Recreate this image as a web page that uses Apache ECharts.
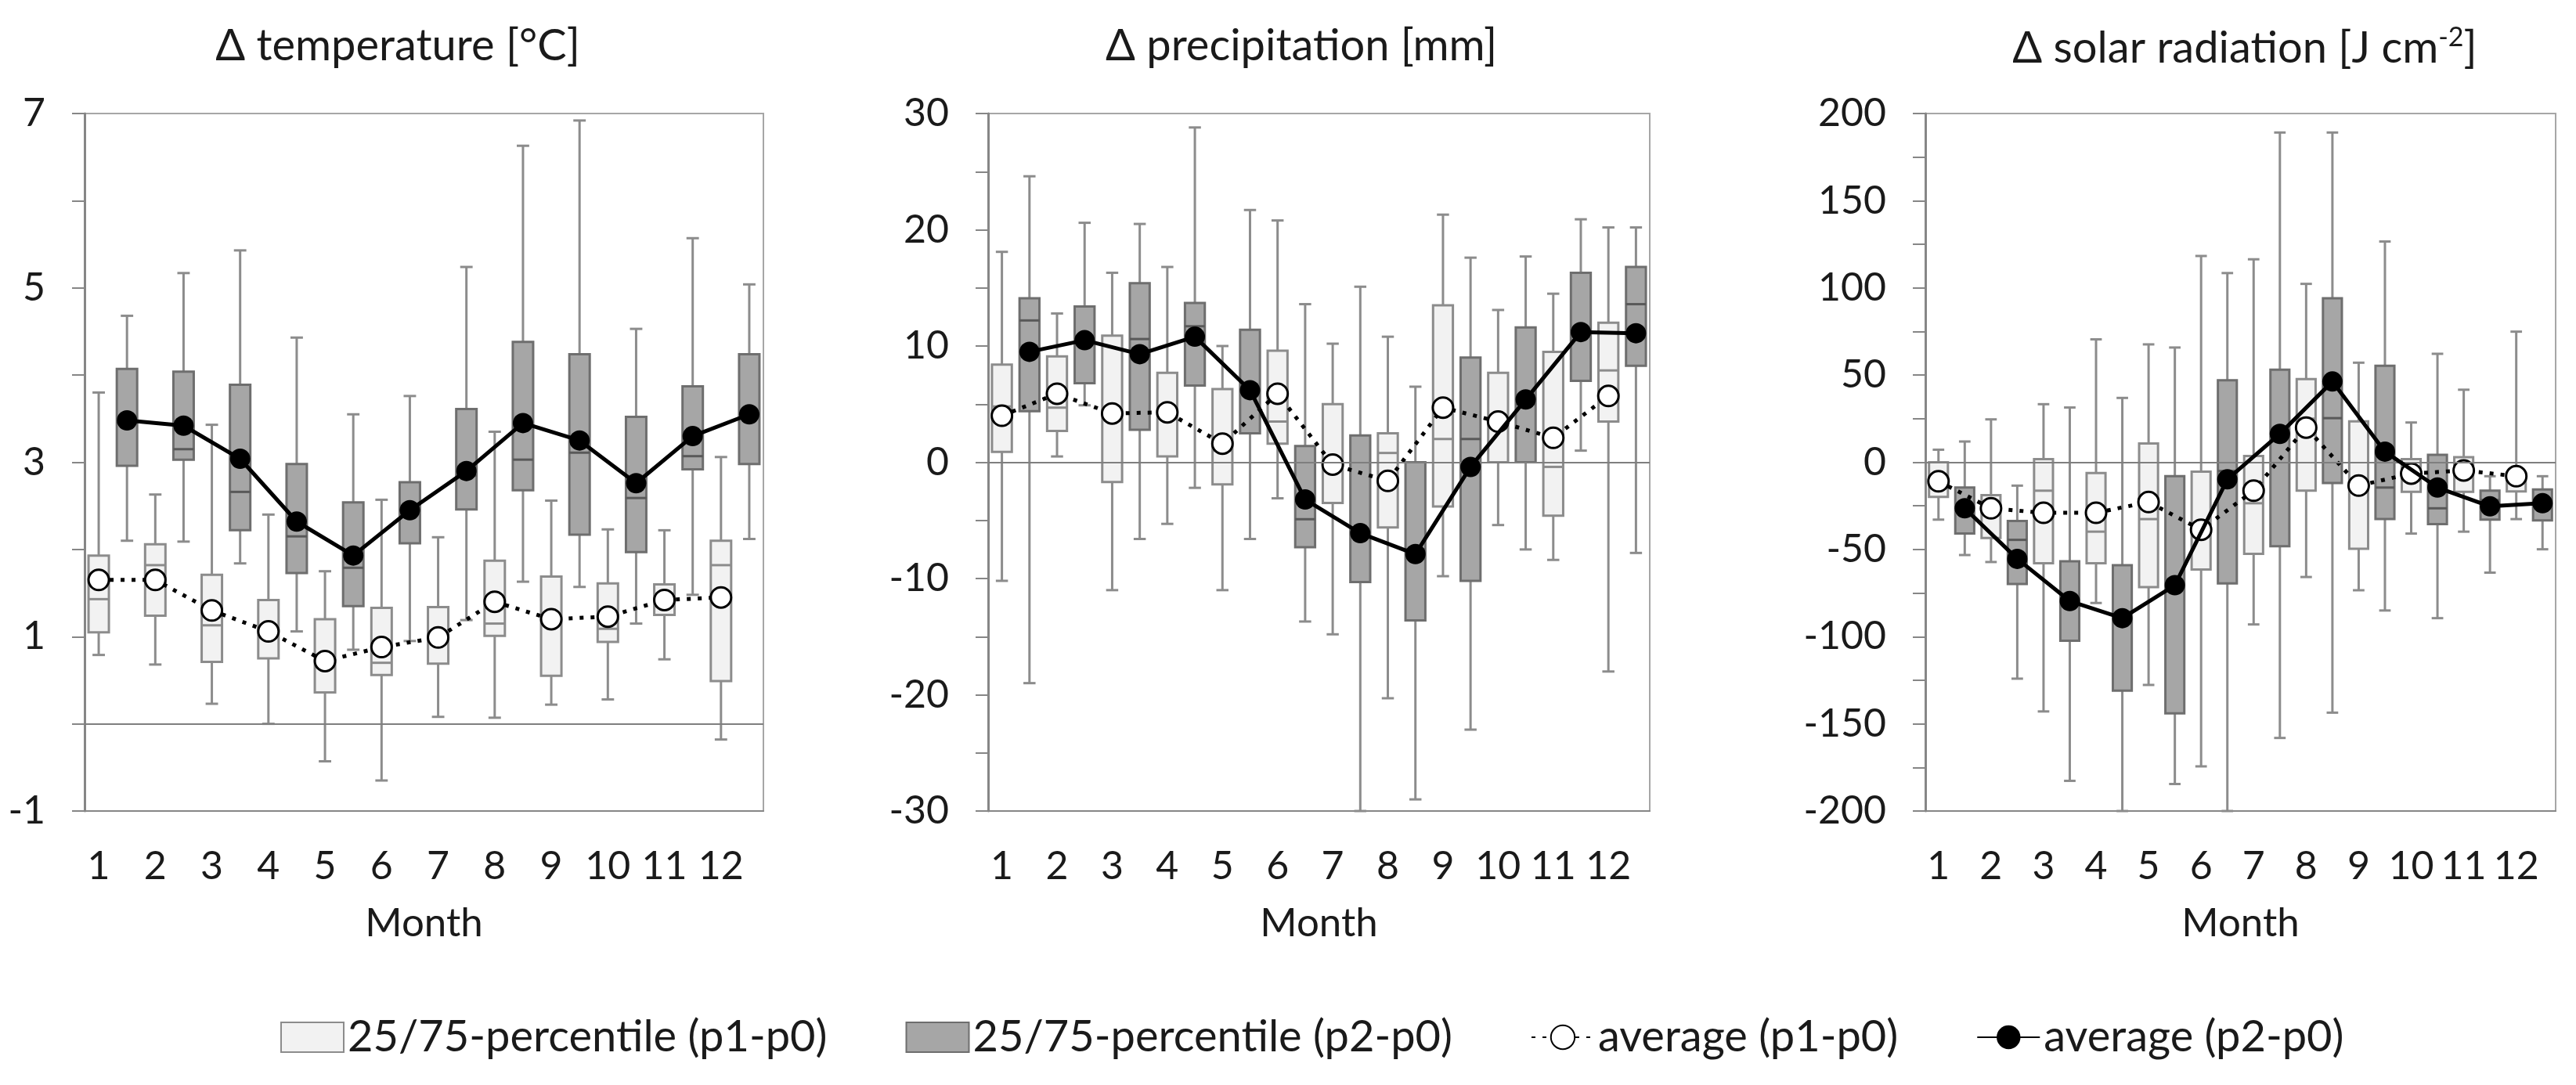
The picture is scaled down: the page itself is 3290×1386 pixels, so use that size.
<!DOCTYPE html>
<html lang="en">
<head>
    <meta charset="UTF-8">
    <title>Delta climate boxplots</title>
    <style>
        html, body { margin: 0; padding: 0; background: #fff; }
        #box { width: 3290px; height: 1386px; }
    </style>
</head>
<body>
    <div id="box"></div>
</body>
<script src="https://cdn.jsdelivr.net/npm/echarts@6/dist/echarts.min.js"></script>
<script>
    // month labels (x axis shows one label per month, two boxes per month)
    var months = ['1', '2', '3', '4', '5', '6', '7', '8', '9', '10', '11', '12'];

    // each row: [lower whisker, p25, median, p75, upper whisker]
    var tempP1 = [
        [0.79, 1.05, 1.43, 1.93, 3.80], [0.68, 1.24, 1.82, 2.06, 2.63], [0.23, 0.71, 1.13, 1.71, 3.43],
        [0.00, 0.75, 1.05, 1.42, 2.40], [-0.43, 0.36, 0.72, 1.20, 1.75], [-0.65, 0.56, 0.70, 1.33, 2.57],
        [0.08, 0.69, 1.00, 1.34, 2.14], [0.07, 1.01, 1.15, 1.87, 3.35], [0.22, 0.55, 1.20, 1.69, 2.56],
        [0.28, 0.94, 1.09, 1.61, 2.23], [0.74, 1.25, 1.45, 1.60, 2.22], [-0.18, 0.49, 1.82, 2.10, 3.06]
    ];
    var tempP2 = [
        [2.10, 2.96, 3.45, 4.07, 4.68], [2.09, 3.03, 3.15, 4.04, 5.17], [1.84, 2.22, 2.66, 3.89, 5.43],
        [1.06, 1.73, 2.15, 2.98, 4.43], [0.85, 1.35, 1.79, 2.54, 3.55], [0.95, 2.07, 2.45, 2.77, 3.76],
        [1.19, 2.46, 2.85, 3.61, 5.24], [1.63, 2.68, 3.03, 4.38, 6.63], [1.57, 2.17, 3.11, 4.24, 6.92],
        [1.15, 1.97, 2.59, 3.52, 4.53], [1.48, 2.92, 3.07, 3.87, 5.57], [2.12, 2.98, 3.55, 4.24, 5.04]
    ];
    var tempAvgP1 = [1.65, 1.65, 1.30, 1.06, 0.72, 0.88, 0.99, 1.40, 1.20, 1.23, 1.42, 1.45];
    var tempAvgP2 = [3.48, 3.42, 3.04, 2.32, 1.93, 2.45, 2.90, 3.45, 3.25, 2.76, 3.30, 3.55];

    var precP1 = [
        [-10.2, 0.9, 4.8, 8.4, 18.1], [0.5, 2.7, 4.7, 9.1, 12.8], [-11.0, -1.7, 4.7, 10.9, 16.3],
        [-5.3, 0.5, 4.3, 7.7, 16.8], [-11.0, -1.9, 1.0, 6.3, 10.0], [-3.1, 1.6, 3.5, 9.6, 20.8],
        [-14.8, -3.5, -0.3, 5.0, 10.2], [-20.3, -5.6, 0.8, 2.5, 10.8], [-9.8, -3.8, 2.0, 13.5, 21.3],
        [-5.4, 0.0, 3.3, 7.7, 13.1], [-8.4, -4.6, -0.4, 9.5, 14.5], [-18.0, 3.5, 7.9, 12.0, 20.2]
    ];
    var precP2 = [
        [-19.0, 4.4, 12.2, 14.1, 24.6], [4.9, 6.8, 10.3, 13.4, 20.6], [-6.6, 2.8, 10.6, 15.4, 20.5],
        [-2.2, 6.6, 11.7, 13.7, 28.8], [-6.6, 2.5, 6.0, 11.4, 21.7], [-13.7, -7.3, -4.9, 1.4, 13.6],
        [-30.0, -10.3, -6.0, 2.3, 15.1], [-29.0, -13.6, -7.5, 0.0, 6.5], [-23.0, -10.2, 2.0, 9.0, 17.6],
        [-7.5, 0.0, 5.0, 11.6, 17.7], [1.0, 7.0, 11.0, 16.3, 20.9], [-7.8, 8.3, 13.6, 16.8, 20.2]
    ];
    var precAvgP1 = [4.0, 5.9, 4.2, 4.3, 1.6, 5.9, -0.2, -1.6, 4.7, 3.5, 2.1, 5.7];
    var precAvgP2 = [9.5, 10.5, 9.3, 10.8, 6.2, -3.2, -6.1, -7.9, -0.4, 5.4, 11.2, 11.1];

    var radP1 = [
        [-32.9, -19.9, -10, 0, 7.2], [-57.2, -43.4, -27, -18.8, 24.6], [-142.9, -57.9, -16.3, 1.8, 33.3],
        [-80.7, -57.9, -39.8, -6.2, 70.5], [-127.7, -71.6, -32.6, 10.8, 67.6], [-174.4, -61.5, -40, -5.4, 118.3],
        [-93.0, -52.5, -23.5, 3.6, 116.4], [-65.8, -16.3, 25, 47.7, 102.3], [-73.4, -49.6, -13, 23.5, 57.1],
        [-40.9, -17.0, -6, 1.8, 22.8], [-39.8, -17.0, -5, 2.9, 41.6], [-32.6, -16.7, -10, -7.6, 74.9]
    ];
    var radP2 = [
        [-53.2, -40.9, -25, -14.5, 11.9], [-124.1, -69.8, -44.5, -33.7, -13.4], [-182.7, -102.4, -80, -56.8, 31.4],
        [-200, -131.0, -88, -59.0, 36.9], [-184.5, -144.0, -70, -8.0, 65.8], [-200, -69.5, -5, 47.0, 108.5],
        [-158.1, -48.1, 15, 53.1, 189.1], [-143.6, -11.9, 25.3, 94.0, 189.1], [-85.0, -32.6, -14.5, 55.3, 126.6],
        [-89.4, -35.5, -26.4, 4.3, 62.2], [-63.3, -32.9, -21.7, -16.3, -8.0], [-49.9, -33.3, -25, -15.6, -8.0]
    ];
    var radAvgP1 = [-10.9, -26.4, -29.0, -29.0, -22.8, -38.7, -16.3, 19.9, -13.4, -6.5, -4.7, -8.0];
    var radAvgP2 = [-26.4, -55.4, -79.6, -89.4, -70.5, -9.8, 16.3, 46.3, 6.1, -14.5, -25.3, -23.5];

    var NAME_BOX1 = '25/75-percentile (p1-p0)';
    var NAME_BOX2 = '25/75-percentile (p2-p0)';
    var NAME_AVG1 = 'average (p1-p0)';
    var NAME_AVG2 = 'average (p2-p0)';
    var FONT = 'Lato';

    var xCats = [];
    months.forEach(function (m) { xCats.push(m); xCats.push(''); });

    // light box sits on the month slot, dark box in the slot right of it
    function boxData(stats, offset) {
        return stats.map(function (s, i) { return [2 * i + offset].concat(s); });
    }
    function avgData(avgs, offset) {
        var arr = [];
        for (var k = 0; k < 24; k++) arr.push(null);
        avgs.forEach(function (v, i) { arr[2 * i + offset] = v; });
        return arr;
    }

    function makeBoxRender(fill, stroke, medColor) {
        return function (params, api) {
            var x = api.value(0);
            var lo = api.coord([x, api.value(1)]);
            var q1 = api.coord([x, api.value(2)]);
            var md = api.coord([x, api.value(3)]);
            var q3 = api.coord([x, api.value(4)]);
            var hi = api.coord([x, api.value(5)]);
            var band = api.size([1, 0])[0];
            var bw = band * 0.72;
            var cw = band * 0.44;
            var cx = lo[0];
            var wStyle = { stroke: '#8c8c8c', lineWidth: 3 };
            return {
                type: 'group',
                children: [
                    { type: 'line', shape: { x1: cx, y1: hi[1], x2: cx, y2: lo[1] }, style: wStyle },
                    { type: 'line', shape: { x1: cx - cw / 2, y1: hi[1], x2: cx + cw / 2, y2: hi[1] }, style: wStyle },
                    { type: 'line', shape: { x1: cx - cw / 2, y1: lo[1], x2: cx + cw / 2, y2: lo[1] }, style: wStyle },
                    {
                        type: 'rect',
                        shape: { x: cx - bw / 2, y: q3[1], width: bw, height: q1[1] - q3[1] },
                        style: { fill: fill, stroke: stroke, lineWidth: 3 }
                    },
                    { type: 'line', shape: { x1: cx - bw / 2, y1: md[1], x2: cx + bw / 2, y2: md[1] }, style: { stroke: medColor, lineWidth: 3 } }
                ]
            };
        };
    }

    var panels = [
        { title: 'Δ temperature [°C]', tx: 503, min: -1, max: 7, step: 1, labelStep: 2, p1: tempP1, p2: tempP2, a1: tempAvgP1, a2: tempAvgP2,
          grid: { left: 108, top: 145, width: 867, height: 891 } },
        { title: 'Δ precipitation [mm]', tx: 1657, min: -30, max: 30, step: 5, labelStep: 10, p1: precP1, p2: precP2, a1: precAvgP1, a2: precAvgP2,
          grid: { left: 1262, top: 145, width: 845, height: 891 } },
        { title: 'Δ solar radiation [J cm{sup|-2}]', tx: 2862, min: -200, max: 200, step: 25, labelStep: 50, p1: radP1, p2: radP2, a1: radAvgP1, a2: radAvgP2,
          grid: { left: 2459, top: 145, width: 805, height: 891 } }
    ];

    var grids = [], xAxes = [], yAxes = [], series = [], titles = [];

    panels.forEach(function (p, i) {
        grids.push({
            left: p.grid.left, top: p.grid.top, width: p.grid.width, height: p.grid.height,
            show: true, borderColor: '#a6a6a6', borderWidth: 2, backgroundColor: 'transparent'
        });
        xAxes.push({
            type: 'category', gridIndex: i, data: xCats,
            name: 'Month', nameLocation: 'middle', nameGap: 118,
            nameTextStyle: { fontFamily: FONT, fontSize: 51, color: '#1a1a1a' },
            axisLine: { show: true, onZero: false, lineStyle: { color: '#868686', width: 2 } },
            axisTick: { show: false },
            axisLabel: { interval: 0, margin: 46, fontFamily: FONT, fontSize: 50, color: '#1a1a1a' },
            splitLine: { show: false }
        });
        var ls = p.labelStep, lmin = p.min;
        yAxes.push({
            type: 'value', gridIndex: i, min: p.min, max: p.max, interval: p.step,
            axisLine: { show: true, lineStyle: { color: '#868686', width: 3 } },
            axisTick: { show: true, length: 16, lineStyle: { color: '#868686', width: 2 } },
            axisLabel: {
                margin: 50, fontFamily: FONT, fontSize: 50, color: '#1a1a1a',
                // only every other tick carries a label
                formatter: function (v) {
                    var r = Math.abs((v - lmin) % ls);
                    return r < 1e-9 ? String(v) : '';
                }
            },
            splitLine: { show: false }
        });
        titles.push({
            text: p.title, left: p.tx, top: 26, textAlign: 'center',
            textStyle: {
                fontFamily: FONT, fontSize: 56, fontWeight: 'normal', color: '#1a1a1a',
                rich: { sup: { fontFamily: FONT, fontSize: 34, color: '#1a1a1a', padding: [0, 0, 28, 0] } }
            }
        });

        // zero reference line
        series.push({
            name: 'zero' + i, type: 'line', xAxisIndex: i, yAxisIndex: i, data: [], z: 1,
            markLine: {
                silent: true, symbol: 'none', label: { show: false },
                lineStyle: { color: '#7f7f7f', width: 2, type: 'solid' },
                data: [{ yAxis: 0 }]
            }
        });
        series.push({
            name: NAME_BOX1, type: 'custom', xAxisIndex: i, yAxisIndex: i, z: 2,
            itemStyle: { color: '#f2f2f2', borderColor: '#8c8c8c', borderWidth: 2 },
            renderItem: makeBoxRender('#f2f2f2', '#8c8c8c', '#8c8c8c'),
            encode: { x: 0, y: [1, 2, 3, 4, 5] },
            data: boxData(p.p1, 0)
        });
        series.push({
            name: NAME_BOX2, type: 'custom', xAxisIndex: i, yAxisIndex: i, z: 2,
            itemStyle: { color: '#a6a6a6', borderColor: '#6e6e6e', borderWidth: 2 },
            renderItem: makeBoxRender('#a6a6a6', '#6e6e6e', '#595959'),
            encode: { x: 0, y: [1, 2, 3, 4, 5] },
            data: boxData(p.p2, 1)
        });
        series.push({
            name: NAME_AVG1, type: 'line', xAxisIndex: i, yAxisIndex: i, z: 4,
            connectNulls: true, symbol: 'circle', symbolSize: 26,
            lineStyle: { color: '#000', width: 5, type: [5, 9] },
            itemStyle: { color: '#fff', borderColor: '#000', borderWidth: 3 },
            data: avgData(p.a1, 0)
        });
        series.push({
            name: NAME_AVG2, type: 'line', xAxisIndex: i, yAxisIndex: i, z: 5,
            connectNulls: true, symbol: 'circle', symbolSize: 26,
            lineStyle: { color: '#000', width: 5 },
            itemStyle: { color: '#000' },
            data: avgData(p.a2, 1)
        });
    });

    var box = echarts.init(document.getElementById('box'));
    box.setOption({
        animation: false,
        backgroundColor: '#fff',
        title: titles,
        legend: {
            left: 353, top: 1292,
            itemWidth: 80, itemHeight: 38, itemGap: 100,
            symbolKeepAspect: false,
            textStyle: { fontFamily: FONT, fontSize: 56, color: '#1a1a1a' },
            data: [
                { name: NAME_BOX1, icon: 'rect', itemStyle: { color: '#f2f2f2', borderColor: '#8c8c8c', borderWidth: 2 } },
                { name: NAME_BOX2, icon: 'rect', itemStyle: { color: '#a6a6a6', borderColor: '#6e6e6e', borderWidth: 2 } },
                { name: NAME_AVG1 },
                { name: NAME_AVG2 }
            ]
        },
        grid: grids,
        xAxis: xAxes,
        yAxis: yAxes,
        series: series
    });
</script>
</html>
